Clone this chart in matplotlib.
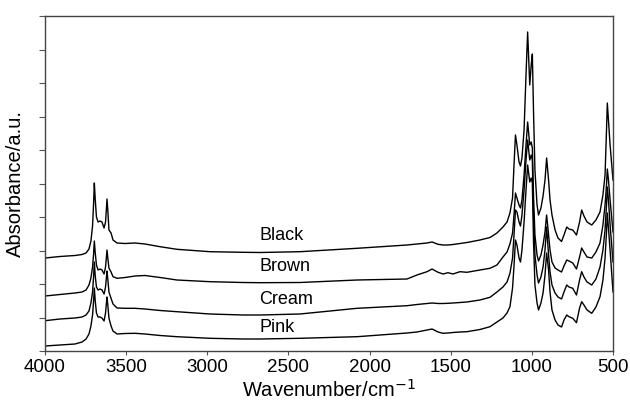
import matplotlib
matplotlib.use("Agg")
import matplotlib.pyplot as plt

plt.rcParams['font.family'] = ['Liberation Sans', 'DejaVu Sans']

# Wavenumber grid (cm^-1) shared by the four spectra
wavenumber = [4000, 3908, 3815, 3772, 3747, 3729, 3717, 3707, 3701, 3696, 3691, 3683, 3673, 3661, 3649,
              3636, 3627, 3622, 3618, 3613, 3606, 3593, 3581, 3556, 3507, 3445, 3384, 3291, 3187, 2983,
              2780, 2675, 2429, 2077, 1769, 1708, 1646, 1615, 1578, 1547, 1517, 1486, 1443, 1400, 1320,
              1258, 1215, 1178, 1153, 1135, 1119, 1110, 1101, 1092, 1079, 1070, 1061, 1048, 1036, 1026,
              1013, 1004, 997, 990, 981, 968, 959, 944, 931, 919, 909, 897, 888, 876, 857, 839, 817,
              802, 785, 771, 748, 725, 706, 693, 679, 660, 631, 605, 580, 562, 549, 540, 535, 528, 518, 500]

# Absorbance (arbitrary units, offset spectra)
black = [93, 94.5, 95.5, 96.5, 98, 102, 110, 125, 146, 168, 153, 134, 129, 130, 129,
         123, 129, 141, 152, 141, 121, 118, 111, 108, 107.5, 108, 107, 104.3, 101.7, 99.3,
         98.7, 98.5, 99.3, 102.7, 106, 107, 108, 109, 106.7, 106, 106, 106.5, 107.5, 108.5, 111,
         113.5, 118, 124, 129, 138, 153, 186, 216, 206, 189, 185, 193, 221, 276, 319,
         266, 286, 297, 241, 181, 146, 136, 143, 155, 171, 193, 171, 151, 136, 121, 113, 109.5,
         116, 124, 122, 121, 116, 129, 141, 135, 129, 126, 131, 139, 156, 176, 221, 248, 231, 206, 171]
brown = [55, 56.5, 58, 59, 61, 66, 73, 84, 96, 110, 99, 86, 81, 82, 81,
         77, 84, 93, 101, 93, 83, 79, 74.3, 72.7, 73.5, 75, 75.5, 73.5, 71, 69.3,
         68.5, 68.3, 68.5, 71, 72, 76, 79.3, 82, 78.7, 77, 78.3, 77, 79.3, 78.7, 81,
         82.7, 86, 94, 99, 107, 118, 136, 158, 153, 146, 143, 151, 176, 206, 229,
         206, 209, 203, 156, 116, 96, 90, 96, 106, 119, 136, 116, 101, 89, 83, 81, 79,
         85, 91, 90, 88, 82, 94, 103, 99, 94, 93, 99, 108, 126, 146, 166, 182, 171, 151, 119]
cream = [30.3, 32, 33, 34, 36, 40, 48, 59, 73, 89, 76, 64, 61, 62, 61,
         57, 64, 73, 80, 72, 59, 52.7, 47, 43, 42.7, 42.7, 42, 40.5, 39.3, 37,
         36, 36, 37, 42.7, 45.3, 46.5, 47.5, 48, 47.5, 47.5, 47.7, 48, 48.5, 49, 51,
         53.7, 59, 64, 69, 77.7, 93, 116, 141, 139, 129, 125, 136, 161, 191, 211,
         191, 196, 191, 136, 96, 76, 68, 74, 84, 101, 124, 96, 79, 66, 58, 54, 52,
         59, 66, 64, 62.7, 56, 71, 79.3, 74, 69, 66, 72, 84, 101, 121, 146, 164, 151, 126, 89]
pink = [5, 6, 7, 9, 12, 17, 25, 36, 49, 63, 51, 38, 34, 34, 33,
        30, 38, 47, 54, 46, 33, 25, 20, 17, 17.5, 17.7, 17, 15.5, 14.3, 12.7,
        12, 12, 12.7, 14.3, 18, 19, 21, 22, 19, 17.7, 18, 18.5, 19, 19.3, 21.5,
        24.3, 29, 33, 38, 44.3, 63, 85, 111, 106, 93, 89, 101, 129, 161, 186,
        169, 173, 168, 111, 66, 48, 41, 48, 58, 76, 98, 81, 59, 41, 31, 26, 24,
        31, 36, 34.3, 32.7, 28.3, 43, 49.3, 46, 41, 37.7, 44, 54.3, 71, 93, 119, 138, 123, 101, 59]

series = [("Black", black), ("Brown", brown), ("Cream", cream), ("Pink", pink)]
label_pos = {"Black": 116, "Brown": 84.3, "Cream": 51.7, "Pink": 23.3}
label_x = 2680

xticks = [4000, 3500, 3000, 2500, 2000, 1500, 1000, 500]

fig = plt.figure(figsize=(6.30, 4.03), dpi=100)
ax = fig.add_axes([45/630, 1 - 351/403, (613-45)/630, (351-16)/403])

for name, vals in series:
    ax.plot(wavenumber, vals, color='black', lw=1.0)
    ax.text(label_x, label_pos[name], name, ha='left', va='center', fontsize=13)

ax.set_xlim(4000, 500)
ax.set_ylim(0, 335)
ax.set_xticks(xticks)
ax.set_xticklabels([str(t) for t in xticks], fontsize=13.5)
ax.set_yticks([33.5 * i for i in range(11)])
ax.set_yticklabels([])
ax.tick_params(axis='y', direction='out', length=4, width=0.8, color='#555555')
ax.tick_params(axis='x', direction='out', length=3, width=0.8, color='#555555', pad=3)
for s in ax.spines.values():
    s.set_color('#444444')
    s.set_linewidth(1.0)

ax.set_xlabel('Wavenumber/cm$^{-1}$', fontsize=14.5, labelpad=2)
ax.set_ylabel('Absorbance/a.u.', fontsize=14.5, labelpad=7)

fig.savefig('out.png', dpi=100)
